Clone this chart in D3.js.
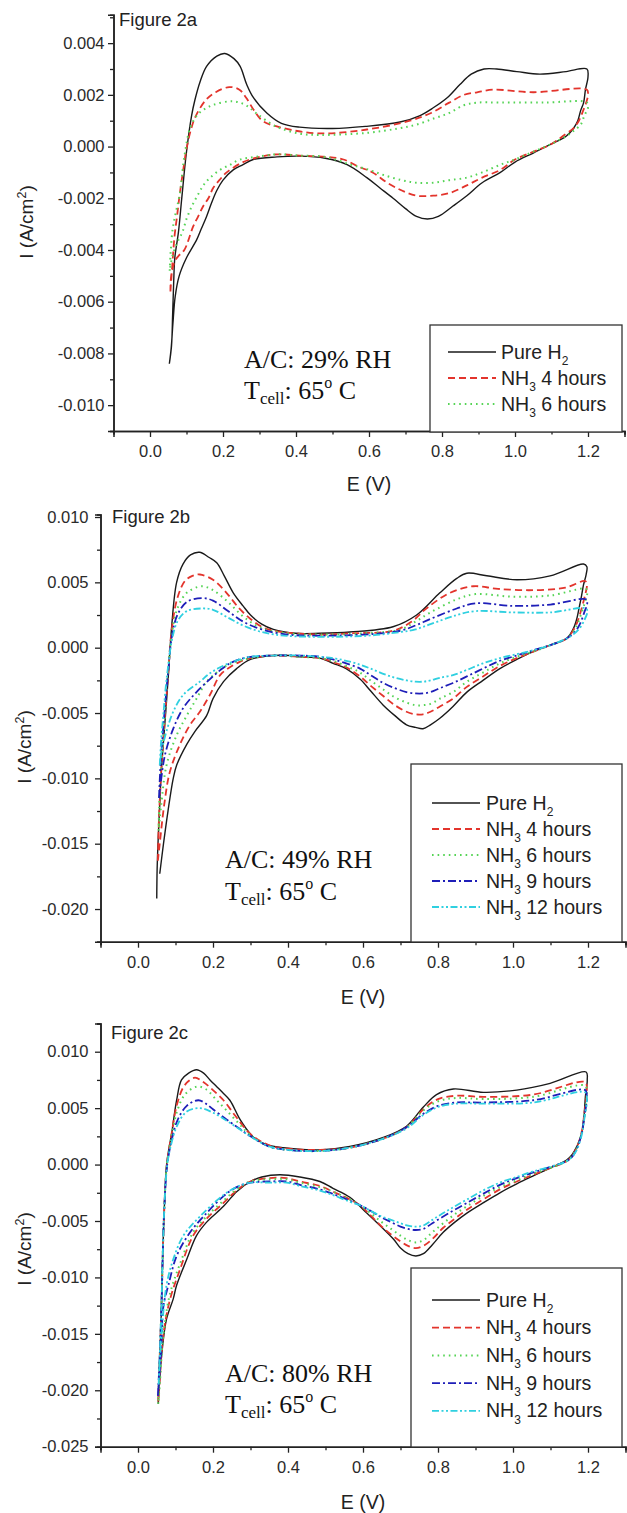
<!DOCTYPE html>
<html><head><meta charset="utf-8">
<script src="https://cdn.jsdelivr.net/npm/d3@7"></script>
<style>body{margin:0;background:#fff} svg{display:block}</style>
</head><body><svg id="c" width="627" height="1513"></svg>
<script>
// ---------------- DATA ----------------
const seriesNames = ["Pure H2", "NH3 4 hours", "NH3 6 hours", "NH3 9 hours", "NH3 12 hours"];
const panelLabels = ["Figure 2a", "Figure 2b", "Figure 2c"];
const humidity = ["29% RH", "49% RH", "80% RH"];
const cellTemp = "65";

const xTicks = [0.0, 0.2, 0.4, 0.6, 0.8, 1.0, 1.2];
const xMinorTicks = [-0.1, 0.1, 0.3, 0.5, 0.7, 0.9, 1.1, 1.3];
const xDomain = [-0.1, 1.3];

const aYTicks = [-0.010, -0.008, -0.006, -0.004, -0.002, 0.000, 0.002, 0.004];
const aYMinor = [-0.011, -0.009, -0.007, -0.005, -0.003, -0.001, 0.001, 0.003, 0.005];
const aYDomain = [-0.011, 0.0051];
const bYTicks = [-0.020, -0.015, -0.010, -0.005, 0.000, 0.005, 0.010];
const bYMinor = [-0.0225, -0.0175, -0.0125, -0.0075, -0.0025, 0.0025, 0.0075];
const bYDomain = [-0.0225, 0.0102];
const cYTicks = [-0.025, -0.020, -0.015, -0.010, -0.005, 0.000, 0.005, 0.010];
const cYMinor = [-0.0225, -0.0175, -0.0125, -0.0075, -0.0025, 0.0025, 0.0075, 0.0125];
const cYDomain = [-0.025, 0.0125];

// Panel a  [E (V), I (A/cm2)]
const a_pureH2 = [[0.053,-0.0084],[0.059,-0.0077],[0.062,-0.0065],[0.065,-0.0052],[0.068,-0.0043],[0.078,-0.0033],[0.087,-0.002],[0.1,-0.0002],[0.114,0.0012],[0.123,0.0018],[0.137,0.0025],[0.155,0.0031],[0.183,0.0035],[0.205,0.0036],[0.23,0.0034],[0.247,0.0031],[0.265,0.0024],[0.283,0.0019],[0.32,0.0013],[0.36,0.0009],[0.41,0.00075],[0.5,0.0007],[0.59,0.00078],[0.685,0.00095],[0.74,0.0012],[0.776,0.0015],[0.815,0.0019],[0.849,0.0024],[0.88,0.0028],[0.915,0.003],[0.95,0.003],[1.005,0.0029],[1.068,0.0028],[1.14,0.0029],[1.197,0.003],
 [1.2,0.0027],[1.193,0.0022],[1.188,0.0017],[1.18,0.0014],[1.172,0.001],[1.16,0.0007],[1.14,0.0004],
 [1.1,0.0001],[1.05,-0.00025],[1.0,-0.0006],[0.96,-0.001],[0.91,-0.0014],[0.868,-0.0019],[0.83,-0.0023],[0.79,-0.0027],[0.76,-0.0028],[0.73,-0.0027],[0.7,-0.0024],[0.666,-0.002],[0.63,-0.0016],[0.594,-0.0012],[0.54,-0.0007],[0.48,-0.00045],[0.41,-0.00037],[0.348,-0.0004],[0.283,-0.0005],[0.255,-0.0007],[0.228,-0.0009],[0.2,-0.0013],[0.183,-0.0017],[0.168,-0.0022],[0.155,-0.0027],[0.14,-0.0032],[0.128,-0.0036],[0.1,-0.0043],[0.08,-0.005],[0.069,-0.0058],[0.063,-0.0068],[0.058,-0.0078],[0.053,-0.0084]];
const a_nh3_4h = [[0.056,-0.0056],[0.061,-0.0046],[0.067,-0.0035],[0.074,-0.0027],[0.08,-0.002],[0.09,-0.001],[0.1,-0.0001],[0.113,0.0007],[0.126,0.0012],[0.153,0.0018],[0.18,0.0021],[0.217,0.0023],[0.245,0.0022],[0.263,0.0019],[0.285,0.0014],[0.308,0.001],[0.363,0.00072],[0.464,0.00051],[0.594,0.00066],[0.712,0.001],[0.77,0.0013],[0.82,0.0017],[0.86,0.002],[0.896,0.0021],[0.94,0.0022],[1.05,0.0021],[1.197,0.0022],
 [1.2,0.002],[1.195,0.0017],[1.187,0.0014],[1.175,0.001],[1.16,0.0007],[1.14,0.0005],
 [1.1,0.0001],[1.05,-0.0002],[1.0,-0.0005],[0.96,-0.0009],[0.91,-0.0012],[0.868,-0.0015],[0.82,-0.0018],[0.776,-0.0019],[0.73,-0.0019],[0.69,-0.0017],[0.65,-0.0014],[0.61,-0.001],[0.575,-0.0008],[0.53,-0.0005],[0.485,-0.0004],[0.41,-0.00035],[0.348,-0.0003],[0.3,-0.0004],[0.255,-0.0006],[0.21,-0.001],[0.19,-0.0013],[0.173,-0.0016],[0.16,-0.002],[0.146,-0.0023],[0.132,-0.0027],[0.118,-0.0031],[0.094,-0.004],[0.08,-0.0042],[0.069,-0.0044],[0.058,-0.005],[0.056,-0.0056]];
const a_nh3_6h = [[0.054,-0.0048],[0.057,-0.004],[0.062,-0.0032],[0.07,-0.0026],[0.082,-0.0018],[0.094,-0.0004],[0.112,0.0008],[0.135,0.0013],[0.171,0.0016],[0.227,0.00175],[0.263,0.0016],[0.29,0.0013],[0.345,0.00078],[0.41,0.0005],[0.464,0.00045],[0.594,0.00053],[0.68,0.0007],[0.73,0.00085],[0.78,0.0011],[0.82,0.0013],[0.86,0.0016],[0.896,0.0017],[0.96,0.0017],[1.08,0.0017],[1.197,0.0017],
 [1.2,0.0015],[1.19,0.0012],[1.18,0.00085],[1.16,0.0006],[1.14,0.0004],
 [1.1,0.0001],[1.05,-0.0002],[1.0,-0.0005],[0.96,-0.0007],[0.91,-0.001],[0.868,-0.0012],[0.82,-0.0013],[0.776,-0.0014],[0.73,-0.0014],[0.69,-0.0013],[0.64,-0.0011],[0.6,-0.0009],[0.55,-0.0007],[0.48,-0.0004],[0.41,-0.00035],[0.348,-0.0003],[0.29,-0.0004],[0.247,-0.0005],[0.22,-0.0007],[0.192,-0.0009],[0.165,-0.0012],[0.146,-0.0015],[0.13,-0.0019],[0.115,-0.0023],[0.1,-0.0028],[0.089,-0.0033],[0.075,-0.0037],[0.062,-0.0042],[0.054,-0.0048]];

// Panel b
const b_pureH2 = [[0.05,-0.0192],[0.051,-0.017],[0.054,-0.0145],[0.058,-0.012],[0.062,-0.0095],[0.068,-0.0072],[0.075,-0.0045],[0.081,-0.0021],[0.09,0.0017],[0.103,0.005],[0.12,0.0064],[0.14,0.0071],[0.164,0.0073],[0.19,0.0069],[0.21,0.0065],[0.23,0.0055],[0.254,0.0042],[0.28,0.0032],[0.3,0.0025],[0.33,0.0018],[0.361,0.0014],[0.42,0.0011],[0.485,0.0011],[0.565,0.0012],[0.68,0.0016],[0.743,0.0025],[0.805,0.0042],[0.85,0.0053],[0.877,0.0057],[0.93,0.0055],[1.01,0.0052],[1.099,0.0055],[1.188,0.0064],
 [1.197,0.0062],[1.195,0.0056],[1.188,0.0048],[1.183,0.004],[1.176,0.003],[1.17,0.0022],[1.16,0.0014],[1.143,0.0007],
 [1.1,0.0002],[1.054,-0.0003],[1.01,-0.0009],[0.965,-0.0016],[0.92,-0.0025],[0.877,-0.0034],[0.84,-0.0045],[0.805,-0.0054],[0.78,-0.0059],[0.76,-0.0062],[0.74,-0.0061],[0.716,-0.0059],[0.685,-0.0052],[0.654,-0.0044],[0.62,-0.0033],[0.592,-0.0024],[0.555,-0.0016],[0.52,-0.0012],[0.485,-0.0008],[0.432,-0.0007],[0.405,-0.0006],[0.361,-0.0006],[0.3,-0.0009],[0.263,-0.0016],[0.228,-0.0026],[0.2,-0.0039],[0.183,-0.0052],[0.152,-0.0064],[0.13,-0.0074],[0.103,-0.009],[0.094,-0.01],[0.08,-0.0125],[0.068,-0.015],[0.058,-0.0173]];
const b_nh3_4h = [[0.053,-0.0163],[0.056,-0.013],[0.06,-0.0105],[0.065,-0.008],[0.07,-0.006],[0.08,-0.0022],[0.09,0.0014],[0.105,0.0038],[0.125,0.0051],[0.145,0.0055],[0.165,0.0056],[0.2,0.0052],[0.236,0.0042],[0.27,0.003],[0.3,0.0022],[0.33,0.0016],[0.361,0.0013],[0.485,0.001],[0.565,0.0011],[0.68,0.0013],[0.73,0.002],[0.769,0.003],[0.832,0.0042],[0.894,0.0047],[0.96,0.0045],[1.054,0.0044],[1.14,0.0046],[1.192,0.0051],
 [1.197,0.0048],[1.192,0.004],[1.183,0.003],[1.172,0.002],[1.16,0.0013],[1.143,0.0007],
 [1.1,0.0002],[1.054,-0.0003],[1.01,-0.0008],[0.965,-0.0014],[0.92,-0.0022],[0.877,-0.003],[0.84,-0.0039],[0.805,-0.0045],[0.78,-0.0049],[0.76,-0.0051],[0.74,-0.0051],[0.716,-0.0049],[0.685,-0.0044],[0.654,-0.0037],[0.62,-0.0029],[0.592,-0.0022],[0.555,-0.0015],[0.52,-0.0011],[0.485,-0.0008],[0.432,-0.0007],[0.36,-0.0006],[0.3,-0.0008],[0.27,-0.0011],[0.245,-0.0015],[0.219,-0.0021],[0.192,-0.0036],[0.165,-0.0049],[0.139,-0.0059],[0.112,-0.0074],[0.085,-0.0095],[0.07,-0.012],[0.058,-0.015],[0.053,-0.0163]];
const b_nh3_6h = [[0.055,-0.014],[0.058,-0.011],[0.065,-0.008],[0.072,-0.005],[0.08,-0.002],[0.09,0.001],[0.105,0.003],[0.13,0.0042],[0.17,0.0047],[0.2,0.0044],[0.24,0.0035],[0.28,0.0024],[0.33,0.0015],[0.4,0.0011],[0.485,0.001],[0.6,0.0011],[0.7,0.0014],[0.74,0.002],[0.78,0.0027],[0.85,0.0037],[0.9,0.0041],[1.0,0.0039],[1.1,0.004],[1.195,0.0045],
 [1.198,0.0042],[1.192,0.0035],[1.183,0.0027],[1.172,0.0018],[1.16,0.0012],[1.143,0.0007],
 [1.1,0.0002],[1.054,-0.0003],[1.01,-0.0007],[0.965,-0.0012],[0.92,-0.0019],[0.877,-0.0026],[0.84,-0.0034],[0.805,-0.0039],[0.78,-0.0043],[0.76,-0.0044],[0.74,-0.0044],[0.716,-0.0042],[0.685,-0.0038],[0.654,-0.0032],[0.62,-0.0025],[0.592,-0.0019],[0.555,-0.0014],[0.52,-0.001],[0.485,-0.0008],[0.432,-0.0007],[0.36,-0.0006],[0.3,-0.0008],[0.26,-0.0011],[0.235,-0.0014],[0.21,-0.0019],[0.183,-0.0026],[0.156,-0.0039],[0.13,-0.0052],[0.103,-0.0067],[0.076,-0.009],[0.062,-0.012],[0.055,-0.014]];
const b_nh3_9h = [[0.056,-0.0115],[0.06,-0.009],[0.065,-0.007],[0.072,-0.0045],[0.08,-0.002],[0.09,0.0008],[0.105,0.0025],[0.13,0.0035],[0.17,0.0038],[0.2,0.0036],[0.24,0.0028],[0.28,0.002],[0.33,0.0014],[0.4,0.001],[0.6,0.001],[0.7,0.0013],[0.74,0.0017],[0.78,0.0022],[0.85,0.003],[0.9,0.0034],[1.0,0.0032],[1.1,0.0033],[1.195,0.0037],
 [1.198,0.0034],[1.19,0.0027],[1.18,0.0019],[1.168,0.0013],[1.143,0.0007],
 [1.1,0.0002],[1.054,-0.0002],[1.01,-0.0006],[0.965,-0.001],[0.92,-0.0016],[0.877,-0.0022],[0.84,-0.0027],[0.805,-0.0031],[0.78,-0.0034],[0.76,-0.0035],[0.74,-0.0035],[0.716,-0.0034],[0.685,-0.0031],[0.654,-0.0027],[0.62,-0.0021],[0.592,-0.0016],[0.555,-0.0012],[0.52,-0.0009],[0.485,-0.0007],[0.432,-0.0006],[0.36,-0.0006],[0.3,-0.0007],[0.27,-0.0009],[0.245,-0.0012],[0.22,-0.0017],[0.192,-0.0024],[0.156,-0.0034],[0.121,-0.0046],[0.094,-0.0062],[0.072,-0.0082],[0.06,-0.0105],[0.056,-0.0115]];
const b_nh3_12h = [[0.058,-0.009],[0.062,-0.007],[0.068,-0.005],[0.074,-0.003],[0.08,-0.0015],[0.09,0.0005],[0.105,0.002],[0.13,0.0028],[0.17,0.003],[0.2,0.0029],[0.24,0.0023],[0.28,0.0017],[0.33,0.0012],[0.4,0.0009],[0.6,0.0009],[0.7,0.0012],[0.74,0.0014],[0.78,0.0018],[0.85,0.0025],[0.9,0.0028],[1.0,0.0027],[1.1,0.0027],[1.195,0.003],
 [1.198,0.0027],[1.19,0.0021],[1.178,0.0015],[1.16,0.001],[1.143,0.0007],
 [1.1,0.0002],[1.054,-0.0002],[1.01,-0.0005],[0.965,-0.0008],[0.92,-0.0012],[0.877,-0.0017],[0.84,-0.0021],[0.805,-0.0023],[0.78,-0.0025],[0.76,-0.0026],[0.74,-0.0026],[0.716,-0.0025],[0.685,-0.0023],[0.654,-0.002],[0.62,-0.0016],[0.592,-0.0013],[0.555,-0.001],[0.52,-0.0008],[0.485,-0.0007],[0.432,-0.0006],[0.36,-0.0006],[0.3,-0.0007],[0.26,-0.001],[0.219,-0.0015],[0.19,-0.002],[0.165,-0.0026],[0.121,-0.0036],[0.094,-0.0049],[0.076,-0.0064],[0.063,-0.0079],[0.058,-0.009]];

// Panel c
const c_pureH2 = [[0.054,-0.0212],[0.056,-0.019],[0.058,-0.017],[0.061,-0.0145],[0.063,-0.012],[0.066,-0.008],[0.07,-0.004],[0.076,-0.0001],[0.083,0.0015],[0.09,0.0028],[0.103,0.0057],[0.116,0.0075],[0.135,0.0081],[0.156,0.0084],[0.175,0.0081],[0.192,0.0075],[0.21,0.0069],[0.225,0.0064],[0.245,0.0057],[0.272,0.004],[0.3,0.0027],[0.316,0.0022],[0.35,0.0017],[0.388,0.0015],[0.485,0.0013],[0.565,0.0016],[0.654,0.0024],[0.716,0.0034],[0.761,0.0051],[0.796,0.0062],[0.841,0.0067],[0.921,0.0064],[1.01,0.0066],[1.099,0.0072],[1.195,0.0082],
 [1.198,0.0075],[1.193,0.006],[1.19,0.0045],[1.186,0.0032],[1.178,0.0022],[1.17,0.0016],[1.158,0.0009],[1.143,0.0004],
 [1.1,-0.0003],[1.054,-0.001],[1.01,-0.0017],[0.965,-0.0025],[0.92,-0.0034],[0.877,-0.0043],[0.845,-0.0051],[0.814,-0.006],[0.785,-0.0071],[0.761,-0.0079],[0.741,-0.0081],[0.72,-0.0079],[0.7,-0.0074],[0.681,-0.0066],[0.645,-0.0054],[0.61,-0.0043],[0.565,-0.0029],[0.52,-0.0021],[0.485,-0.0015],[0.432,-0.0011],[0.379,-0.0009],[0.33,-0.0011],[0.3,-0.0015],[0.263,-0.0024],[0.228,-0.0037],[0.183,-0.0051],[0.156,-0.0063],[0.13,-0.0084],[0.103,-0.0107],[0.094,-0.0119],[0.076,-0.0137],[0.063,-0.0169],[0.057,-0.0195],[0.054,-0.0212]];
const c_nh3_4h = [[0.054,-0.021],[0.058,-0.017],[0.063,-0.012],[0.066,-0.008],[0.07,-0.004],[0.077,0],[0.09,0.0028],[0.103,0.0052],[0.12,0.0068],[0.135,0.0074],[0.152,0.0077],[0.175,0.0073],[0.2,0.0066],[0.228,0.0057],[0.26,0.0043],[0.3,0.0027],[0.35,0.0017],[0.4,0.0014],[0.485,0.0013],[0.565,0.0015],[0.654,0.0023],[0.716,0.0033],[0.761,0.0049],[0.8,0.0058],[0.85,0.0061],[0.921,0.006],[1.054,0.0062],[1.192,0.0073],
 [1.197,0.0066],[1.19,0.0045],[1.184,0.003],[1.17,0.0015],[1.158,0.0008],[1.143,0.0003],
 [1.1,-0.0003],[1.054,-0.0009],[1.01,-0.0015],[0.965,-0.0022],[0.92,-0.0031],[0.877,-0.004],[0.845,-0.0048],[0.814,-0.0056],[0.785,-0.0066],[0.761,-0.0072],[0.741,-0.0074],[0.72,-0.0072],[0.7,-0.0068],[0.675,-0.0062],[0.65,-0.0055],[0.62,-0.0045],[0.592,-0.0036],[0.565,-0.0031],[0.52,-0.0024],[0.485,-0.0019],[0.432,-0.0015],[0.396,-0.0012],[0.35,-0.0012],[0.3,-0.0015],[0.263,-0.0023],[0.228,-0.0034],[0.183,-0.0048],[0.147,-0.0063],[0.112,-0.0093],[0.085,-0.012],[0.068,-0.015],[0.058,-0.019],[0.054,-0.021]];
const c_nh3_6h = [[0.054,-0.0212],[0.058,-0.017],[0.063,-0.012],[0.066,-0.008],[0.07,-0.004],[0.077,0],[0.09,0.0026],[0.105,0.0048],[0.125,0.0062],[0.156,0.0069],[0.18,0.0067],[0.21,0.0057],[0.236,0.0048],[0.27,0.0036],[0.3,0.0026],[0.35,0.0016],[0.4,0.0013],[0.485,0.0012],[0.565,0.0015],[0.654,0.0023],[0.716,0.0033],[0.761,0.0048],[0.8,0.0056],[0.85,0.0059],[0.921,0.0058],[1.054,0.006],[1.192,0.007],
 [1.197,0.0063],[1.19,0.0043],[1.183,0.0028],[1.17,0.0015],[1.158,0.0008],[1.143,0.0003],
 [1.1,-0.0003],[1.054,-0.0008],[1.01,-0.0014],[0.965,-0.002],[0.92,-0.0028],[0.877,-0.0037],[0.845,-0.0044],[0.814,-0.0052],[0.785,-0.006],[0.761,-0.0067],[0.741,-0.0069],[0.72,-0.0067],[0.7,-0.0063],[0.675,-0.0057],[0.65,-0.0051],[0.62,-0.0043],[0.592,-0.0036],[0.565,-0.0031],[0.52,-0.0024],[0.485,-0.002],[0.432,-0.0016],[0.396,-0.0013],[0.35,-0.0013],[0.3,-0.0015],[0.263,-0.0022],[0.228,-0.0032],[0.183,-0.0046],[0.147,-0.006],[0.112,-0.0088],[0.085,-0.0115],[0.068,-0.015],[0.058,-0.0195],[0.054,-0.0212]];
const c_nh3_9h = [[0.053,-0.0205],[0.058,-0.017],[0.063,-0.012],[0.066,-0.008],[0.07,-0.004],[0.078,0],[0.09,0.0022],[0.105,0.0039],[0.13,0.0052],[0.161,0.0057],[0.185,0.0053],[0.2,0.0049],[0.236,0.004],[0.27,0.0032],[0.3,0.0025],[0.35,0.0016],[0.4,0.0013],[0.485,0.0012],[0.565,0.0015],[0.654,0.0023],[0.716,0.0033],[0.761,0.0045],[0.8,0.0052],[0.85,0.0055],[0.921,0.0055],[1.054,0.0057],[1.192,0.0066],
 [1.197,0.006],[1.19,0.0042],[1.183,0.0027],[1.17,0.0014],[1.158,0.0007],[1.143,0.0003],
 [1.1,-0.0002],[1.054,-0.0007],[1.01,-0.0012],[0.965,-0.0018],[0.92,-0.0026],[0.877,-0.0034],[0.845,-0.004],[0.814,-0.0046],[0.785,-0.0052],[0.761,-0.0057],[0.741,-0.0058],[0.72,-0.0057],[0.7,-0.0055],[0.675,-0.0051],[0.65,-0.0047],[0.62,-0.0041],[0.592,-0.0036],[0.565,-0.0032],[0.52,-0.0026],[0.485,-0.0022],[0.432,-0.0018],[0.396,-0.0015],[0.35,-0.0015],[0.3,-0.0016],[0.263,-0.002],[0.228,-0.0028],[0.183,-0.0043],[0.139,-0.006],[0.103,-0.0081],[0.081,-0.0107],[0.068,-0.0125],[0.061,-0.0169],[0.053,-0.0205]];
const c_nh3_12h = [[0.055,-0.0195],[0.059,-0.016],[0.063,-0.012],[0.066,-0.008],[0.07,-0.004],[0.078,0],[0.09,0.002],[0.105,0.0035],[0.13,0.0047],[0.165,0.005],[0.2,0.0046],[0.245,0.0037],[0.3,0.0025],[0.35,0.0016],[0.4,0.0013],[0.485,0.0012],[0.565,0.0015],[0.654,0.0023],[0.716,0.0032],[0.761,0.0044],[0.8,0.0051],[0.85,0.0054],[0.921,0.0054],[1.054,0.0055],[1.192,0.0064],
 [1.197,0.0058],[1.19,0.004],[1.183,0.0026],[1.17,0.0013],[1.158,0.0007],[1.143,0.0003],
 [1.1,-0.0002],[1.054,-0.0006],[1.01,-0.0011],[0.965,-0.0016],[0.92,-0.0023],[0.877,-0.0031],[0.845,-0.0037],[0.814,-0.0043],[0.785,-0.0049],[0.761,-0.0054],[0.741,-0.0055],[0.72,-0.0054],[0.7,-0.0052],[0.675,-0.0049],[0.65,-0.0046],[0.62,-0.0041],[0.592,-0.0036],[0.565,-0.0033],[0.52,-0.0027],[0.485,-0.0023],[0.432,-0.0019],[0.396,-0.0016],[0.35,-0.0016],[0.3,-0.0016],[0.263,-0.002],[0.228,-0.0027],[0.165,-0.0046],[0.121,-0.0063],[0.094,-0.0084],[0.076,-0.0107],[0.063,-0.015],[0.058,-0.0175],[0.055,-0.0195]];

// ---------------- STYLE / LAYOUT ----------------
const seriesStyle = [
  {color: "#1a1a1a", dash: null, width: 1.4},
  {color: "#e3342c", dash: "7,4", width: 1.8},
  {color: "#55d455", dash: "1.6,4", width: 2},
  {color: "#1e1eb8", dash: "8,3,2,3", width: 1.8},
  {color: "#2fd0e0", dash: "7,2.5,2,2.5,2,2.5", width: 1.8}
];

const panels = [
  {label: panelLabels[0], rh: humidity[0], data: [a_pureH2, a_nh3_4h, a_nh3_6h],
   yDomain: aYDomain, yTicks: aYTicks, yMinor: aYMinor,
   xRange: [113.5, 624.5], yRange: [431, 14.7], tickPad: 3.5,
   labelPos: [119, 26], yTitle: [33, 222], xTitleY: 491,
   legend: {x: 430, y: 325, w: 192, h: 107, firstY: 352, step: 26, l1: 448, l2: 496, tx: 501},
   note: {x: 244, y1: 368, y2: 399}},
  {label: panelLabels[1], rh: humidity[1], data: [b_pureH2, b_nh3_4h, b_nh3_6h, b_nh3_9h, b_nh3_12h],
   yDomain: bYDomain, yTicks: bYTicks, yMinor: bYMinor,
   xRange: [100.5, 625.5], yRange: [941.7, 514.4], tickPad: 6.5,
   labelPos: [112, 523], yTitle: [31, 747], xTitleY: 1004,
   legend: {x: 411, y: 764, w: 211, h: 178, firstY: 803, step: 26, l1: 432, l2: 480, tx: 486},
   note: {x: 225, y1: 868, y2: 900}},
  {label: panelLabels[2], rh: humidity[2], data: [c_pureH2, c_nh3_4h, c_nh3_6h, c_nh3_9h, c_nh3_12h],
   yDomain: cYDomain, yTicks: cYTicks, yMinor: cYMinor,
   xRange: [100.5, 625.5], yRange: [1446.7, 1023.5], tickPad: 6.5,
   labelPos: [111, 1039], yTitle: [31, 1249], xTitleY: 1509,
   legend: {x: 411, y: 1268, w: 211, h: 179, firstY: 1300, step: 27.7, l1: 432, l2: 480, tx: 486},
   note: {x: 225, y1: 1382, y2: 1413}}
];

const SANS = "'Liberation Sans', Arial, sans-serif";
const SERIF = "'Liberation Serif', 'Times New Roman', serif";
const svg = d3.select("#c");

panels.forEach(p => {
  const x = d3.scaleLinear().domain(xDomain).range(p.xRange);
  const y = d3.scaleLinear().domain(p.yDomain).range(p.yRange);
  const g = svg.append("g");

  // curves
  const line = d3.line().x(d => x(d[0])).y(d => y(d[1])).curve(d3.curveCatmullRom.alpha(0.5));
  p.data.forEach((ser, i) => {
    const st = seriesStyle[i];
    g.append("path").datum(ser).attr("d", line)
      .attr("fill", "none").attr("stroke", st.color).attr("stroke-width", st.width)
      .attr("stroke-dasharray", st.dash).attr("stroke-linejoin", "round");
  });

  // axes
  const yBase = p.yRange[0];
  const xAxis = d3.axisBottom(x).tickValues(xTicks).tickSize(6).tickPadding(8.5).tickFormat(v => v.toFixed(1));
  const xMinor = d3.axisBottom(x).tickValues(xMinorTicks).tickSize(3.5).tickFormat("");
  const yAxis = d3.axisLeft(y).tickValues(p.yTicks).tickSize(5.5).tickPadding(p.tickPad).tickFormat(v => v.toFixed(3));
  const yMinor = d3.axisLeft(y).tickValues(p.yMinor).tickSize(3.5).tickFormat("");

  g.append("g").attr("transform", `translate(0,${yBase})`).call(xAxis);
  g.append("g").attr("transform", `translate(0,${yBase})`).call(xMinor);
  g.append("g").attr("transform", `translate(${p.xRange[0]},0)`).call(yAxis);
  g.append("g").attr("transform", `translate(${p.xRange[0]},0)`).call(yMinor);
  g.selectAll(".domain").attr("stroke", "#222").attr("stroke-width", 1.5);
  g.selectAll(".tick line").attr("stroke", "#222").attr("stroke-width", 1.3);
  g.selectAll(".tick text").attr("font-family", SANS).attr("font-size", 16.5).attr("fill", "#2a2a2a");

  // panel label
  svg.append("text").attr("x", p.labelPos[0]).attr("y", p.labelPos[1])
    .attr("font-family", SANS).attr("font-size", 18.5).attr("fill", "#222").text(p.label);

  // y title
  const yt = svg.append("text").attr("transform", `translate(${p.yTitle[0]},${p.yTitle[1]}) rotate(-90)`)
    .attr("text-anchor", "middle").attr("font-family", SANS).attr("font-size", 19).attr("fill", "#222");
  yt.append("tspan").text("I (A/cm");
  yt.append("tspan").attr("font-size", 12.5).attr("dy", -7.5).text("2");
  yt.append("tspan").attr("dy", 7.5).text(")");

  // x title
  svg.append("text").attr("x", (p.xRange[0] + p.xRange[1]) / 2).attr("y", p.xTitleY)
    .attr("text-anchor", "middle").attr("font-family", SANS).attr("font-size", 19.5).attr("fill", "#222").text("E (V)");

  // legend
  const L = p.legend;
  svg.append("rect").attr("x", L.x).attr("y", L.y).attr("width", L.w).attr("height", L.h)
    .attr("fill", "#fff").attr("stroke", "#333").attr("stroke-width", 1.3);
  p.data.forEach((ser, i) => {
    const st = seriesStyle[i];
    const ly = L.firstY + i * L.step;
    svg.append("line").attr("x1", L.l1).attr("x2", L.l2).attr("y1", ly).attr("y2", ly)
      .attr("stroke", st.color).attr("stroke-width", st.width).attr("stroke-dasharray", st.dash);
    const t = svg.append("text").attr("x", L.tx).attr("y", ly + 6.5)
      .attr("font-family", SANS).attr("font-size", 19.5).attr("fill", "#222");
    const name = seriesNames[i];
    const m = name.match(/^(Pure H|NH)(\d)(.*)$/);
    t.append("tspan").text(m[1]);
    t.append("tspan").attr("font-size", 12).attr("dy", 6.5).text(m[2]);
    t.append("tspan").attr("dy", -6.5).text(m[3]);
  });

  // annotation
  const N = p.note;
  svg.append("text").attr("x", N.x).attr("y", N.y1).attr("font-family", SERIF).attr("font-size", 26)
    .attr("fill", "#111").text("A/C: " + p.rh);
  const t2 = svg.append("text").attr("x", N.x).attr("y", N.y2).attr("font-family", SERIF).attr("font-size", 26).attr("fill", "#111");
  t2.append("tspan").text("T");
  t2.append("tspan").attr("font-size", 17).attr("dy", 5).text("cell");
  t2.append("tspan").attr("dy", -5).text(": " + cellTemp);
  t2.append("tspan").attr("font-size", 16).attr("dy", -11).text("o");
  t2.append("tspan").attr("dy", 11).text(" C");
});
</script>
</body></html>
